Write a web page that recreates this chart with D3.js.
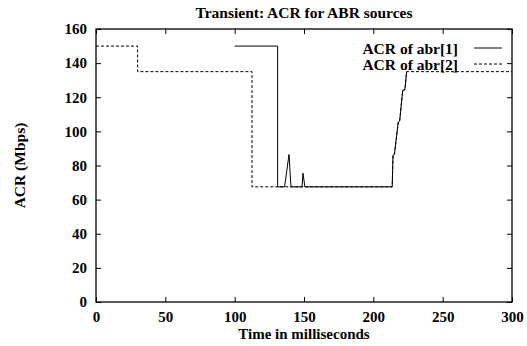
<!DOCTYPE html>
<html>
<head>
<meta charset="utf-8">
<script src="https://cdn.jsdelivr.net/npm/d3@7"></script>
<style>
  html, body { margin: 0; padding: 0; background: #fff; }
</style>
</head>
<body>
<svg id="chart" width="527" height="346"></svg>
<script>
// ACR traces for the two ABR sources (time in ms, rate in Mbps)
const abr1Time = [100, 131, 131, 136, 137.6, 139.2, 140.6, 148.6, 149.3, 150.6, 213.6, 214.2, 215.2, 218, 219, 220, 221.2, 222.8, 224];
const abr1Acr  = [150, 150, 67.5, 67.5, 77, 86.5, 67.5, 67.5, 75.5, 67.5, 67.5, 86, 86.5, 105.5, 106, 114.5, 124, 124.5, 135];

const abr2Time = [0, 30, 30, 112.5, 112.5, 213.6, 214.2, 215.2, 218, 219, 220, 221.2, 222.8, 224, 300];
const abr2Acr  = [150, 150, 135, 135, 67.5, 67.5, 86, 86.5, 105.5, 106, 114.5, 124, 124.5, 135, 135];

const xTicks = [0, 50, 100, 150, 200, 250, 300];
const yTicks = [0, 20, 40, 60, 80, 100, 120, 140, 160];

const titleText = "Transient: ACR for ABR sources";
const xTitle = "Time in milliseconds";
const yTitle = "ACR (Mbps)";
const seriesNames = ["ACR of abr[1]", "ACR of abr[2]"];

const FONT = "'Liberation Serif', 'Times New Roman', serif";
const svg = d3.select("#chart");
const m = { left: 96, right: 512, top: 29, bottom: 302 };

const x = d3.scaleLinear().domain([0, 300]).range([m.left, m.right]);
const y = d3.scaleLinear().domain([0, 160]).range([m.bottom, m.top]);

const tickLen = 5;
const styleLabels = g => g.attr("font-family", FONT).attr("font-size", 15).attr("font-weight", "bold")
  .selectAll("text").attr("fill", "#000");

// bottom axis with labels, top axis mirrored ticks only
svg.append("g").attr("transform", `translate(0,${m.bottom})`)
  .call(d3.axisBottom(x).tickValues(xTicks).tickSizeInner(-tickLen).tickSizeOuter(0).tickPadding(9))
  .call(g => g.select(".domain").remove())
  .call(styleLabels);
svg.append("g").attr("transform", `translate(0,${m.top})`)
  .call(d3.axisTop(x).tickValues(xTicks).tickSizeInner(-tickLen).tickSizeOuter(0).tickFormat(""))
  .call(g => g.select(".domain").remove());

svg.append("g").attr("transform", `translate(${m.left},0)`)
  .call(d3.axisLeft(y).tickValues(yTicks).tickSizeInner(-tickLen).tickSizeOuter(0).tickPadding(9))
  .call(g => g.select(".domain").remove())
  .call(styleLabels);
svg.append("g").attr("transform", `translate(${m.right},0)`)
  .call(d3.axisRight(y).tickValues(yTicks).tickSizeInner(-tickLen).tickSizeOuter(0).tickFormat(""))
  .call(g => g.select(".domain").remove());

svg.selectAll(".tick line").attr("stroke", "#000").attr("stroke-width", 1);

// plot frame
svg.append("rect")
  .attr("x", m.left).attr("y", m.top)
  .attr("width", m.right - m.left).attr("height", m.bottom - m.top)
  .attr("fill", "none").attr("stroke", "#000").attr("stroke-width", 1.3);

const line = d3.line().x(d => x(d[0])).y(d => y(d[1]));
const abr1 = abr1Time.map((t, i) => [t, abr1Acr[i]]);
const abr2 = abr2Time.map((t, i) => [t, abr2Acr[i]]);

svg.append("path").datum(abr2).attr("d", line)
  .attr("fill", "none").attr("stroke", "#000").attr("stroke-width", 1)
  .attr("stroke-dasharray", "3,2");
svg.append("path").datum(abr1).attr("d", line)
  .attr("fill", "none").attr("stroke", "#000").attr("stroke-width", 1);

// legend
const legend = svg.append("g");
[0, 1].forEach(i => {
  const ly = 48 + i * 16;
  legend.append("text").attr("x", 458).attr("y", ly + 6)
    .attr("text-anchor", "end")
    .attr("font-family", FONT).attr("font-weight", "bold").attr("font-size", 15.5)
    .attr("fill", "#000")
    .text(seriesNames[i]);
  legend.append("line").attr("x1", 474).attr("x2", 502).attr("y1", ly).attr("y2", ly)
    .attr("stroke", "#000").attr("stroke-width", 1)
    .attr("stroke-dasharray", i === 1 ? "3,2" : null);
});

// titles
const titles = svg.append("g").attr("font-family", FONT).attr("font-weight", "bold");
titles.append("text").attr("x", 304).attr("y", 18).attr("text-anchor", "middle")
  .attr("font-size", 15.5).text(titleText);
titles.append("text").attr("x", 304).attr("y", 338.5).attr("text-anchor", "middle")
  .attr("font-size", 15).text(xTitle);
titles.append("text").attr("transform", `translate(24.5,${(m.top + m.bottom) / 2}) rotate(-90)`)
  .attr("text-anchor", "middle").attr("font-size", 15.5).text(yTitle);
</script>
</body>
</html>
